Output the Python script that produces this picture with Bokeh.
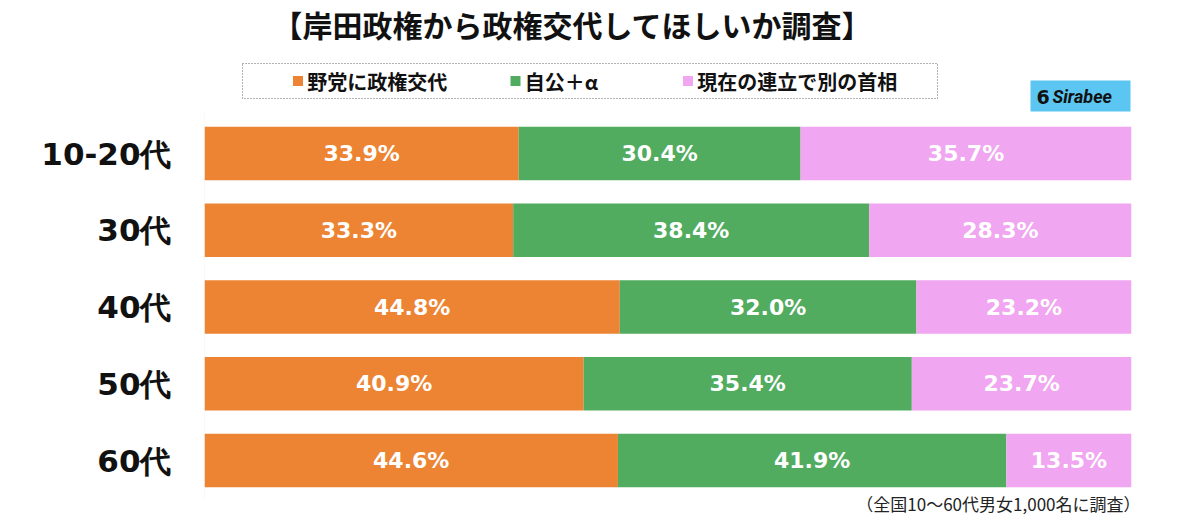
from bokeh.plotting import figure
from bokeh.models import Range1d, FixedTicker, Label, ColumnDataSource
from bokeh.core.properties import value
from bokeh.embed import file_html
from bokeh.resources import INLINE

# ---- data ----
ages = ["10-20代", "30代", "40代", "50代", "60代"]
series_names = ["野党に政権交代", "自公＋α", "現在の連立で別の首相"]
opposition = [33.9, 33.3, 44.8, 40.9, 44.6]
ruling_plus = [30.4, 38.4, 32.0, 35.4, 41.9]
new_pm = [35.7, 28.3, 23.2, 23.7, 13.5]
colors = ["#ED8434", "#52AC5F", "#F0A6F0"]
title_text = "【岸田政権から政権交代してほしいか調査】"
note_text = "（全国10〜60代男女1,000名に調査）"
logo_text = "Sirabee"

FONT = "Noto Sans CJK JP"
NUMFONT = "DejaVu Sans"

# helpers converting reference pixel layout to data units (layout only)
X0, XS = 204.0, 9.27      # px of x=0, px per unit
Y0, YS = 153.0, 76.75     # px of row 0 centre, px per row


def dx(px):
    return (px - X0) / XS


def dy(py):
    return (py - Y0) / YS


rows = list(range(len(ages)))

W, H = 1190, 520
p = figure(width=W, height=H, output_backend="svg", toolbar_location=None,
           x_range=Range1d(0, 100), y_range=Range1d(dy(H), dy(0)),
           x_axis_location=None, y_axis_location="left",
           min_border_left=204, min_border_right=W - 204 - 927,
           min_border_top=0, min_border_bottom=0)
p.outline_line_color = None
p.grid.visible = False
p.background_fill_color = "white"
p.border_fill_color = "white"

# y axis with category labels
ax = p.yaxis[0]
ax.ticker = FixedTicker(ticks=rows)
ax.major_label_overrides = {i: a for i, a in enumerate(ages)}
ax.axis_line_color = None
ax.major_tick_line_color = None
ax.minor_tick_line_color = None
ax.major_label_text_font = NUMFONT
ax.major_label_text_font_style = "bold"
ax.major_label_text_font_size = "31px"
ax.major_label_text_color = "#111111"
ax.major_label_standoff = 27

# vertical baseline
p.segment(x0=[dx(203)], y0=[dy(112)], x1=[dx(203)], y1=[dy(498)],
          line_color="#d0d0d0", line_width=1.5)

# stacked bars
series = [opposition, ruling_plus, new_pm]
left = [0.0] * len(ages)
for vals, col in zip(series, colors):
    right = [l + v for l, v in zip(left, vals)]
    src = ColumnDataSource(dict(y=rows, left=left, right=right,
                                mid=[(l + r) / 2 for l, r in zip(left, right)],
                                lab=[f"{v:.1f}%" for v in vals]))
    p.hbar(y="y", left="left", right="right", height=0.7, source=src,
           fill_color=col, line_color=None)
    p.text(x="mid", y="y", text="lab", source=src, text_color="white",
           text_font=value(NUMFONT), text_font_style="bold", text_font_size="22px",
           text_align="center", text_baseline="middle")
    left = right

# title
p.add_layout(Label(x=dx(572), y=dy(23), text=title_text, text_font=FONT,
                   text_font_style="bold", text_font_size="30px", text_color="#111111",
                   text_align="center", text_baseline="middle"))

# legend box (dotted)
p.quad(left=[dx(242)], right=[dx(937)], top=[dy(63)], bottom=[dy(98)],
       fill_color="white", line_color="#666666", line_dash="1 2", line_width=1)
leg_x = [dx(297.5), dx(515), dx(687.5)]
leg_y = dy(80.5)
for lx, name, col in zip(leg_x, series_names, colors):
    p.scatter(x=[lx], y=[leg_y], marker="square", size=10, fill_color=col, line_color=None)
    p.text(x=[lx + 1.0], y=[leg_y], text=[name], text_font=value(FONT),
           text_font_style="bold", text_font_size="20px", text_color="#111111",
           text_align="left", text_baseline="middle")

# logo
p.quad(left=[dx(1030)], right=[dx(1130)], top=[dy(80)], bottom=[dy(111)],
       fill_color="#5BC6F2", line_color=None)
p.text(x=[dx(1036)], y=[dy(96)], text=["6"],
       text_font=value(NUMFONT), text_font_style="bold", text_font_size="19px",
       text_color="#111111", text_align="left", text_baseline="middle")
p.text(x=[dx(1052)], y=[dy(96)], text=[logo_text],
       text_font=value("Roboto"), text_font_style="bold italic", text_font_size="18px",
       text_color="#111111", text_align="left", text_baseline="middle")

# note
p.add_layout(Label(x=dx(1140), y=dy(503), text=note_text, text_font=FONT,
                   text_font_size="17px", text_color="#222222",
                   text_align="right", text_baseline="middle"))

open("out.html", "w").write(file_html(p, INLINE))
